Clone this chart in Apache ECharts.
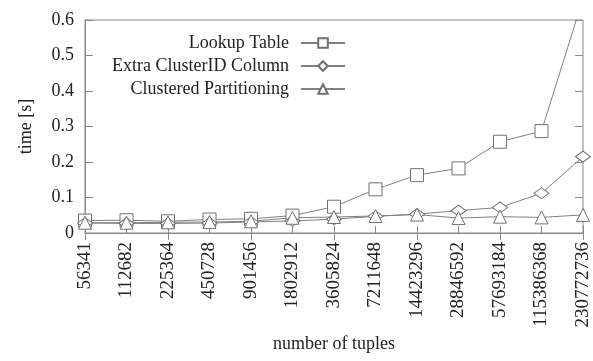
<!DOCTYPE html>
<html><head><meta charset="utf-8">
<script src="https://cdn.jsdelivr.net/npm/echarts@6/dist/echarts.min.js"></script>
<style>html,body{margin:0;padding:0;background:#fff}#c{width:593px;height:361px}</style>
</head><body><div id="c"></div>
<script>
var categories = ['56341','112682','225364','450728','901456','1802912','3605824','7211648','14423296','28846592','57693184','115386368','230772736'];
var lookupTable = [0.035, 0.036, 0.033, 0.038, 0.040, 0.049, 0.074, 0.123, 0.163, 0.182, 0.257, 0.287, 0.66];
var extraClusterID = [0.028, 0.027, 0.027, 0.028, 0.031, 0.034, 0.039, 0.047, 0.053, 0.063, 0.072, 0.112, 0.215];
var clusteredPartitioning = [0.029, 0.029, 0.030, 0.031, 0.033, 0.043, 0.045, 0.048, 0.052, 0.042, 0.046, 0.044, 0.051];
var yTicks = [0, 0.1, 0.2, 0.3, 0.4, 0.5, 0.6];

var gray = '#808080';
var font = 'Liberation Serif';
var diamond = 'path://M0,5 L7,0 L14,5 L7,10 Z';
function mk(name, data, symbol, size) {
  return {
    name: name, type: 'line', data: data, symbol: symbol, symbolSize: size,
    showAllSymbol: true, clip: true,
    lineStyle: {color: gray, width: 1},
    itemStyle: {color: '#fff', borderColor: '#707070', borderWidth: 1}
  };
}
var chart = echarts.init(document.getElementById('c'), null, {renderer: 'canvas'});
chart.setOption({
  animation: false,
  textStyle: {fontFamily: font},
  grid: {left: 85, right: 10, top: 20, bottom: 128, show: true, borderColor: '#888', borderWidth: 1, backgroundColor: 'transparent'},
  legend: {
    orient: 'vertical', right: 247, top: 34, align: 'right', itemWidth: 44, itemHeight: 12, itemGap: 5, padding: 0,
    textStyle: {fontFamily: font, fontSize: 18, color: '#222', padding: [0, 7, 0, 0]},
    data: ['Lookup Table', 'Extra ClusterID Column', 'Clustered Partitioning']
  },
  xAxis: [{
    type: 'category', data: categories, boundaryGap: false,
    name: 'number of tuples', nameLocation: 'middle', nameGap: 102,
    nameTextStyle: {fontFamily: font, fontSize: 18, color: '#222'},
    axisLine: {lineStyle: {color: '#888'}},
    axisTick: {inside: true, length: 7, lineStyle: {color: '#888'}, alignWithLabel: true},
    axisLabel: {rotate: 90, fontFamily: font, fontSize: 19, color: '#222', margin: 9, interval: 0}
  }, {
    type: 'category', data: categories, boundaryGap: false, position: 'top',
    axisLine: {show: false}, axisLabel: {show: false},
    axisTick: {inside: true, length: 7, lineStyle: {color: '#888'}}
  }],
  yAxis: [{
    type: 'value', min: 0, max: 0.6, interval: 0.1,
    name: 'time [s]', nameLocation: 'middle', nameGap: 50,
    nameTextStyle: {fontFamily: font, fontSize: 18, color: '#222'},
    axisLine: {show: true, lineStyle: {color: '#888'}},
    axisTick: {show: true, inside: true, length: 8, lineStyle: {color: '#888'}},
    splitLine: {show: false},
    axisLabel: {fontFamily: font, fontSize: 18, color: '#222', margin: 11,
      formatter: function(v){ var t = yTicks.find(function(x){return Math.abs(x-v)<1e-9;}); return t===undefined? '' : String(t); }}
  }, {
    type: 'value', min: 0, max: 0.6, interval: 0.1, position: 'right',
    axisLine: {show: false}, axisLabel: {show: false}, splitLine: {show: false},
    axisTick: {show: true, inside: true, length: 8, lineStyle: {color: '#888'}}
  }],
  series: [
    mk('Lookup Table', lookupTable, 'rect', 13),
    mk('Extra ClusterID Column', extraClusterID, diamond, [15, 11]),
    mk('Clustered Partitioning', clusteredPartitioning, 'triangle', 13)
  ]
});
</script></body></html>
